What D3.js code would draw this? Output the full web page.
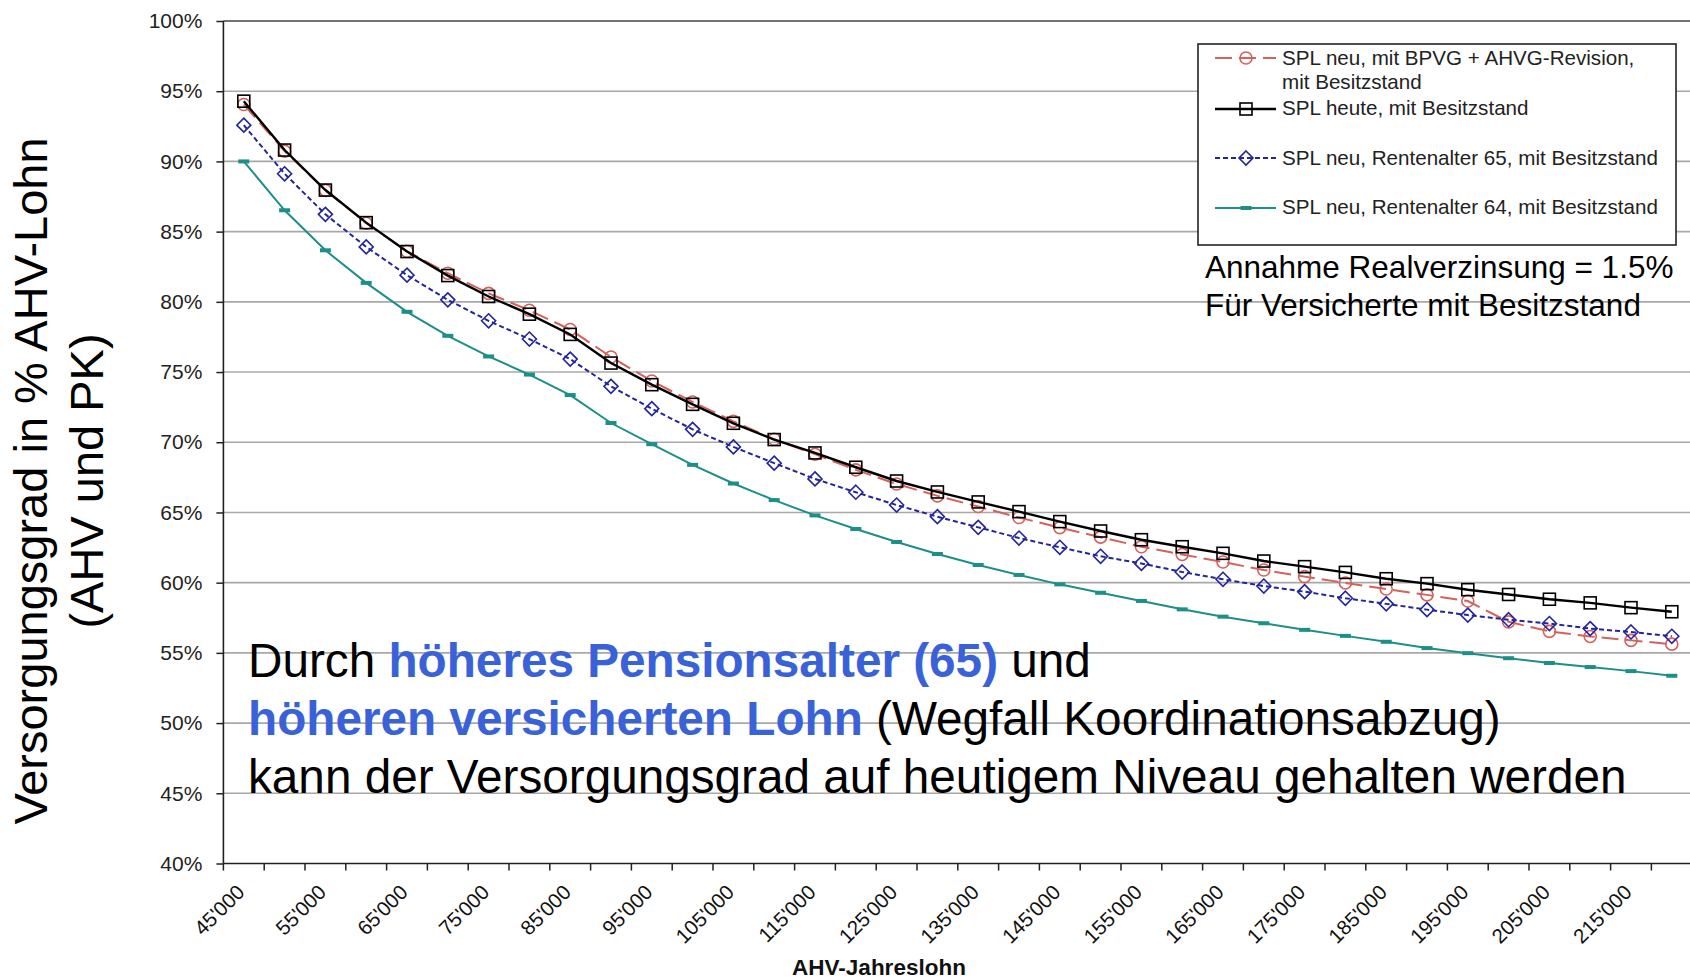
<!DOCTYPE html>
<html><head><meta charset="utf-8">
<script src="https://cdn.jsdelivr.net/npm/d3@7"></script>
<style>
body{margin:0;background:#fff;}
svg{display:block;}
text{font-family:"Liberation Sans",Arial,sans-serif;}
</style>
</head><body>
<svg id="chart" width="1690" height="980"></svg>
<script>
// ---------- data ----------
const categories = [45000,50000,55000,60000,65000,70000,75000,80000,85000,90000,95000,100000,105000,110000,115000,120000,125000,130000,135000,140000,145000,150000,155000,160000,165000,170000,175000,180000,185000,190000,195000,200000,205000,210000,215000,220000];
const labeledCategories = [45000,55000,65000,75000,85000,95000,105000,115000,125000,135000,145000,155000,165000,175000,185000,195000,205000,215000];
const yTicks = [40,45,50,55,60,65,70,75,80,85,90,95,100];

const seriesNames = [
  ["SPL neu, mit BPVG + AHVG-Revision,", "mit Besitzstand"],
  ["SPL heute, mit Besitzstand"],
  ["SPL neu, Rentenalter 65, mit Besitzstand"],
  ["SPL neu, Rentenalter 64, mit Besitzstand"]
];
const splNeuBpvg = [94.05,90.73,87.94,85.60,83.60,82.04,80.60,79.40,78.03,76.07,74.36,72.87,71.49,70.21,69.15,68.03,67.03,66.18,65.42,64.64,63.92,63.24,62.56,62.01,61.47,60.90,60.43,59.98,59.55,59.13,58.69,57.21,56.53,56.17,55.89,55.62];
const splHeute   = [94.29,90.81,87.96,85.64,83.58,81.87,80.38,79.12,77.68,75.64,74.10,72.70,71.35,70.19,69.24,68.22,67.24,66.46,65.75,65.06,64.35,63.68,63.06,62.56,62.09,61.54,61.14,60.73,60.28,59.93,59.50,59.16,58.82,58.56,58.22,57.93];
const splNeu65   = [92.58,89.12,86.23,83.91,81.90,80.14,78.65,77.35,75.92,73.98,72.39,70.92,69.67,68.51,67.39,66.44,65.53,64.70,63.94,63.18,62.52,61.88,61.37,60.76,60.24,59.76,59.36,58.89,58.49,58.08,57.69,57.36,57.09,56.73,56.49,56.18];
const splNeu64   = [90.00,86.52,83.67,81.35,79.29,77.58,76.11,74.82,73.36,71.37,69.86,68.39,67.06,65.88,64.79,63.82,62.90,62.04,61.26,60.55,59.88,59.28,58.70,58.10,57.58,57.11,56.64,56.21,55.79,55.34,54.98,54.62,54.28,53.99,53.70,53.37];

const yTitle = ["Versorgungsgrad in % AHV-Lohn", "(AHV und PK)"];
const xTitle = "AHV-Jahreslohn";
const noteLines = ["Annahme Realverzinsung = 1.5%", "Für Versicherte mit Besitzstand"];

// ---------- layout ----------
const svg = d3.select("#chart");
const pLeft = 223.4, pTop = 21, pBottom = 863.5, pStep = 40.8;
const pRight = pLeft + pStep * categories.length;
const W = 1690;

const x = d3.scaleBand().domain(categories).range([pLeft, pRight]).padding(0);
const y = d3.scaleLinear().domain([40, 100]).range([pBottom, pTop]);
const bw = x.bandwidth();
const cx = c => x(c) + bw / 2;
const fmt = d3.formatLocale({decimal: ".", thousands: "'", grouping: [3], currency: ["", ""]}).format(",");

// gridlines
svg.append("g").selectAll("line").data(yTicks.filter(d => d > 40)).join("line")
  .attr("x1", pLeft).attr("x2", W)
  .attr("y1", d => y(d)).attr("y2", d => y(d))
  .attr("stroke", d => d === 100 ? "#444" : "#a8a8a8")
  .attr("stroke-width", 1.6);

// y axis
const yAxis = svg.append("g").attr("transform", `translate(${pLeft},0)`)
  .call(d3.axisLeft(y).tickValues(yTicks).tickSize(7).tickPadding(14).tickFormat(d => d + "%"));
yAxis.select(".domain").remove();
yAxis.selectAll(".tick line").attr("stroke", "#222").attr("stroke-width", 1.5);
yAxis.selectAll(".tick text").attr("font-size", 21).attr("fill", "#222")
  .attr("font-family", "'Liberation Sans', Arial, sans-serif");
svg.append("line").attr("x1", pLeft).attr("x2", pLeft).attr("y1", pTop).attr("y2", pBottom)
  .attr("stroke", "#222").attr("stroke-width", 1.6);

// x axis
const xAxis = svg.append("g").attr("transform", `translate(0,${pBottom})`)
  .call(d3.axisBottom(x).tickSize(0).tickFormat(""));
xAxis.select(".domain").remove();
xAxis.selectAll(".tick").remove();
svg.append("line").attr("x1", pLeft).attr("x2", W).attr("y1", pBottom).attr("y2", pBottom)
  .attr("stroke", "#222").attr("stroke-width", 1.6);
const boundaries = categories.map(c => x(c)).concat([pRight]);
svg.append("g").selectAll("line").data(boundaries).join("line")
  .attr("x1", d => d).attr("x2", d => d).attr("y1", pBottom).attr("y2", pBottom + 7)
  .attr("stroke", "#222").attr("stroke-width", 1.5);
svg.append("g").selectAll("text").data(labeledCategories).join("text")
  .attr("transform", d => `translate(${cx(d) + 2},${pBottom + 30}) rotate(-45)`)
  .attr("text-anchor", "end").attr("font-size", 20.5).attr("fill", "#111")
  .text(d => fmt(d));

// axis titles
svg.append("text").attr("x", 879).attr("y", 975).attr("text-anchor", "middle")
  .attr("font-size", 22.5).attr("font-weight", "bold").attr("fill", "#111").text(xTitle);
svg.append("text").attr("transform", "translate(47,481) rotate(-90)").attr("text-anchor", "middle")
  .attr("font-size", 47).attr("fill", "#000").text(yTitle[0]);
svg.append("text").attr("transform", "translate(103,481) rotate(-90)").attr("text-anchor", "middle")
  .attr("font-size", 47).attr("fill", "#000").text(yTitle[1]);

// ---------- series ----------
const styles = [
  {data: splNeuBpvg, color: "#d4615c", width: 2, dash: "17,7", marker: "circle"},
  {data: splHeute,   color: "#000000", width: 2.4, dash: null, marker: "square"},
  {data: splNeu65,   color: "#24249c", width: 2, dash: "5,3", marker: "diamond"},
  {data: splNeu64,   color: "#1b8f88", width: 2, dash: null, marker: "bar"}
];
const line = d3.line().x((d, i) => cx(categories[i])).y(d => y(d));

function drawMarker(g, type, color) {
  if (type === "circle") {
    g.append("circle").attr("r", 6).attr("fill", "none").attr("stroke", color).attr("stroke-width", 1.6);
  } else if (type === "square") {
    g.append("rect").attr("x", -6).attr("y", -6).attr("width", 12).attr("height", 12)
      .attr("fill", "none").attr("stroke", color).attr("stroke-width", 1.6);
  } else if (type === "diamond") {
    g.append("path").attr("d", "M0,-7L7,0L0,7L-7,0Z").attr("fill", "none")
      .attr("stroke", color).attr("stroke-width", 1.6);
  } else {
    g.append("rect").attr("x", -5.5).attr("y", -2).attr("width", 11).attr("height", 4).attr("fill", color);
  }
}

styles.forEach(s => {
  svg.append("path").datum(s.data).attr("d", line).attr("fill", "none")
    .attr("stroke", s.color).attr("stroke-width", s.width)
    .attr("stroke-dasharray", s.dash);
  svg.append("g").selectAll("g").data(s.data).join("g")
    .attr("transform", (d, i) => `translate(${cx(categories[i])},${y(d)})`)
    .each(function () { drawMarker(d3.select(this), s.marker, s.color); });
});

// ---------- legend ----------
const lg = svg.append("g");
lg.append("rect").attr("x", 1198).attr("y", 44).attr("width", 478).attr("height", 201)
  .attr("fill", "#fff").attr("stroke", "#222").attr("stroke-width", 1.6);
const legendRows = [58, 109, 158, 208];
const legendBase = [65, 115, 165, 214];
styles.forEach((s, i) => {
  const ly = legendRows[i];
  lg.append("line").attr("x1", 1215).attr("x2", 1276).attr("y1", ly).attr("y2", ly)
    .attr("stroke", s.color).attr("stroke-width", s.width).attr("stroke-dasharray", s.dash);
  const mg = lg.append("g").attr("transform", `translate(1246,${ly})`);
  drawMarker(mg, s.marker, s.color);
  seriesNames[i].forEach((t, j) => {
    lg.append("text").attr("x", 1282).attr("y", legendBase[i] + j * 24.3)
      .attr("font-size", 20.6).attr("fill", "#222").text(t);
  });
});

// note
noteLines.forEach((t, j) => {
  svg.append("text").attr("x", 1205).attr("y", 278 + j * 38).attr("font-size", 31.5)
    .attr("fill", "#000").text(t);
});

// ---------- annotation ----------
const blue = "#3a62d8";
const ann = [
  [["Durch ", false], ["höheres Pensionsalter (65)", true], [" und", false]],
  [["höheren versicherten Lohn", true], [" (Wegfall Koordinationsabzug)", false]],
  [["kann der Versorgungsgrad auf heutigem Niveau gehalten werden", false]]
];
ann.forEach((parts, j) => {
  const t = svg.append("text").attr("x", 248).attr("y", 677 + j * 58).attr("font-size", 47.7).attr("fill", "#000");
  parts.forEach(([s, b]) => {
    t.append("tspan").text(s).attr("font-weight", b ? "bold" : "normal").attr("fill", b ? blue : "#000");
  });
});
</script>
</body></html>
